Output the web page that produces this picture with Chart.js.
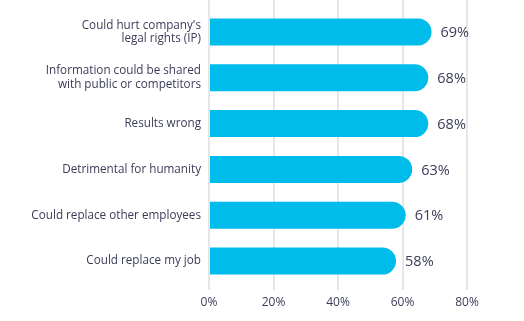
<!DOCTYPE html>
<html>
<head>
<meta charset="utf-8">
<script src="https://cdn.jsdelivr.net/npm/chart.js@4.4.1/dist/chart.umd.min.js"></script>
<style>
    html, body { margin: 0; padding: 0; background: #fff; }
    #wrap { width: 524px; height: 321px; }
</style>
</head>
<body>
<div id="wrap"><canvas id="chart" width="524" height="321"></canvas></div>
<script>
// Data
const categories = [
    ["Could hurt company's", "legal rights (IP)"],
    ["Information could be shared", "with public or competitors"],
    "Results wrong",
    "Detrimental for humanity",
    "Could replace other employees",
    "Could replace my job"
];
const shares = [69, 68, 68, 63, 61, 58];
const tickValues = [0, 20, 40, 60, 80];

const textColor = "#3b3d58";
const gridColor = "#e6e6e6";
const barColor = "#00bceb";

// Value labels after each bar
const valueLabels = {
    id: "valueLabels",
    afterDatasetsDraw(chart) {
        const ctx = chart.ctx;
        const meta = chart.getDatasetMeta(0);
        ctx.save();
        ctx.font = "500 14.5px 'Open Sans'";
        ctx.fillStyle = textColor;
        ctx.textAlign = "left";
        ctx.textBaseline = "middle";
        meta.data.forEach((bar, i) => {
            ctx.fillText(shares[i] + "%", bar.x + 9, bar.y + 1);
        });
        ctx.restore();
    }
};

new Chart(document.getElementById("chart"), {
    type: "bar",
    data: {
        labels: categories,
        datasets: [{
            data: shares,
            backgroundColor: barColor,
            borderRadius: 14,
            borderSkipped: "start",
            barPercentage: 0.59,
            categoryPercentage: 1
        }]
    },
    options: {
        indexAxis: "y",
        responsive: false,
        animation: false,
        layout: { padding: { top: 0, right: 57, bottom: 0, left: 0 } },
        plugins: { legend: { display: false }, tooltip: { enabled: false } },
        scales: {
            x: {
                position: "bottom",
                min: 0,
                max: 80,
                afterBuildTicks: (s) => { s.ticks = tickValues.map((v) => ({ value: v })); },
                afterFit: (s) => { s.height = 37; },
                border: { display: false },
                grid: { color: gridColor, lineWidth: 2, tickLength: 6 },
                ticks: {
                    padding: 5,
                    color: textColor,
                    font: { family: "'Open Sans'", size: 12, weight: "500" },
                    callback: (v) => v + "%"
                }
            },
            x2: {
                type: "linear",
                position: "top",
                min: 0,
                max: 80,
                afterBuildTicks: (s) => { s.ticks = tickValues.map((v) => ({ value: v })); },
                afterFit: (s) => { s.height = 9; },
                border: { display: false },
                grid: { color: gridColor, lineWidth: 2, tickLength: 9, drawOnChartArea: false },
                ticks: { display: false }
            },
            y: {
                afterFit: (s) => {
                    s.width = 209;
                    s.paddingTop = 0;
                    s.paddingBottom = 0;
                },
                border: { display: false },
                grid: { display: false, drawTicks: false },
                ticks: {
                    padding: 8,
                    color: textColor,
                    font: { family: "'Open Sans'", size: 11.7, lineHeight: 1.15 }
                }
            }
        }
    },
    plugins: [valueLabels]
});
</script>
</body>
</html>
